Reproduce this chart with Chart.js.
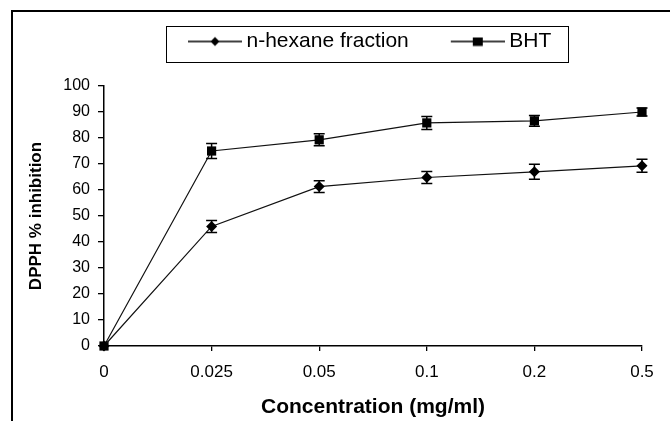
<!DOCTYPE html>
<html>
<head>
<meta charset="utf-8">
<script src="https://cdn.jsdelivr.net/npm/chart.js@4/dist/chart.umd.min.js"></script>
<style>
  html, body { margin: 0; padding: 0; background: #fff; overflow: hidden; }
  #wrap { position: relative; width: 670px; height: 421px; }
  #frame { position: absolute; left: 11px; top: 10px; width: 700px; height: 500px;
           border-left: 2px solid #000; border-top: 2px solid #000; pointer-events: none; }
  canvas { position: absolute; left: 0; top: 0; }
</style>
</head>
<body>
<div id="wrap">
  <canvas id="c" width="670" height="421"></canvas>
  <div id="frame"></div>
</div>
<script>
// ---- data ----
const categories = ['0', '0.025', '0.05', '0.1', '0.2', '0.5'];
const hexaneValues = [0, 46, 61.3, 64.8, 67, 69.3];
const hexaneErrors = [0, 2.3, 2.3, 2.3, 2.9, 2.5];
const bhtValues = [0, 75, 79.3, 85.8, 86.6, 90];
const bhtErrors = [0, 2.9, 2.3, 2.5, 2.1, 1.5];
const seriesNames = ['n-hexane fraction', 'BHT'];
const yTicks = [0, 10, 20, 30, 40, 50, 60, 70, 80, 90, 100];

const FONT = "'Liberation Sans', Arial, sans-serif";

// legend symbols: line with marker
function legendSymbol(kind) {
  const cv = document.createElement('canvas');
  cv.width = 92; cv.height = 14;
  const g = cv.getContext('2d');
  g.strokeStyle = '#000'; g.lineWidth = 1.3;
  g.beginPath(); g.moveTo(38, 7); g.lineTo(92, 7); g.stroke();
  g.fillStyle = '#000';
  if (kind === 'diamond') {
    g.beginPath(); g.moveTo(65, 2.5); g.lineTo(69.5, 7); g.lineTo(65, 11.5); g.lineTo(60.5, 7); g.closePath(); g.fill();
  } else {
    g.fillRect(60, 3, 10, 8.5);
  }
  return cv;
}
const legendIcons = [legendSymbol('diamond'), legendSymbol('square')];

const errorBarPlugin = {
  id: 'errorBars',
  afterDatasetsDraw(chart) {
    const ctx = chart.ctx;
    const yScale = chart.scales.y;
    ctx.save();
    ctx.strokeStyle = '#000';
    ctx.lineWidth = 1.5;
    chart.data.datasets.forEach((ds, di) => {
      const meta = chart.getDatasetMeta(di);
      const errs = ds.errors || [];
      meta.data.forEach((pt, i) => {
        const e = errs[i];
        if (!e) return;
        const v = ds.data[i];
        const yTop = yScale.getPixelForValue(v + e);
        const yBot = yScale.getPixelForValue(v - e);
        const x = pt.x;
        ctx.beginPath();
        ctx.moveTo(x, yTop); ctx.lineTo(x, yBot);
        ctx.moveTo(x - 5.5, yTop); ctx.lineTo(x + 5.5, yTop);
        ctx.moveTo(x - 5.5, yBot); ctx.lineTo(x + 5.5, yBot);
        ctx.stroke();
      });
    });
    ctx.restore();
  }
};

const legendPlacePlugin = {
  id: 'legendPlace',
  beforeLayout(chart) {
    const lg = chart.legend;
    if (lg && !lg._zeroPatched) {
      const origFit = lg.fit.bind(lg);
      lg.fit = function () { origFit(); this.height = 0; };
      lg._zeroPatched = true;
    }
  },
  afterLayout(chart) {
    const lg = chart.legend;
    if (!lg) return;
    lg.left = 146; lg.right = 660; lg.width = 514;
    lg.top = 21; lg.bottom = 62; lg.height = 41;
  },
  afterDraw(chart) {
    const ctx = chart.ctx;
    ctx.save();
    ctx.strokeStyle = '#000';
    ctx.lineWidth = 1;
    ctx.strokeRect(166.5, 26.5, 402, 36);
    ctx.restore();
  }
};

new Chart(document.getElementById('c'), {
  type: 'line',
  data: {
    labels: categories,
    datasets: [
      {
        label: seriesNames[0],
        data: hexaneValues,
        errors: hexaneErrors,
        borderColor: '#111',
        backgroundColor: '#000',
        borderWidth: 1.2,
        pointStyle: 'rectRot',
        pointRadius: 5.5,
        pointBorderWidth: 0,
        pointBackgroundColor: '#000',
        tension: 0,
        clip: false
      },
      {
        label: seriesNames[1],
        data: bhtValues,
        errors: bhtErrors,
        borderColor: '#111',
        backgroundColor: '#000',
        borderWidth: 1.2,
        pointStyle: 'rect',
        pointRadius: 6.5,
        pointBorderWidth: 0,
        pointBackgroundColor: '#000',
        tension: 0,
        clip: false
      }
    ]
  },
  options: {
    responsive: false,
    animation: false,
    events: [],
    layout: { padding: { top: 86, left: 0, right: 28, bottom: 0 } },
    plugins: {
      tooltip: { enabled: false },
      legend: {
        display: true,
        position: 'top',
        align: 'start',
        labels: {
          usePointStyle: true,
          pointStyleWidth: 80,
          padding: 10,
          color: '#000',
          font: { family: FONT, size: 21 },
          generateLabels(chart) {
            return chart.data.datasets.map((ds, i) => ({
              text: ds.label,
              pointStyle: legendIcons[i],
              fillStyle: '#000',
              strokeStyle: '#000',
              lineWidth: 0,
              fontColor: '#000',
              hidden: false,
              datasetIndex: i
            }));
          }
        }
      }
    },
    scales: {
      x: {
        type: 'category',
        offset: false,
        afterFit(scale) { scale.height = 75; },
        grid: { display: true, drawOnChartArea: false, drawTicks: true, tickLength: 5, color: '#000', lineWidth: 1.3 },
        border: { display: true, color: '#000', width: 1.5 },
        ticks: { color: '#000', font: { family: FONT, size: 17 }, padding: 11, maxRotation: 0, autoSkip: false },
        title: { display: true, text: 'Concentration (mg/ml)', color: '#000',
                 font: { family: FONT, size: 21, weight: 'bold' }, padding: { top: 0, bottom: 1.5 } }
      },
      y: {
        min: 0, max: 100,
        afterFit(scale) { scale.width = 104; },
        afterBuildTicks(scale) { scale.ticks = yTicks.map(v => ({ value: v })); },
        grid: { display: true, drawOnChartArea: false, drawTicks: true, tickLength: 6, color: '#000', lineWidth: 1.3 },
        border: { display: true, color: '#000', width: 1.5 },
        ticks: { color: '#000', font: { family: FONT, size: 16 }, padding: 8 },
        title: { display: true, text: 'DPPH % inhibition', color: '#000',
                 font: { family: FONT, size: 17, weight: 'bold' }, padding: { top: 26, bottom: 0 } }
      }
    }
  },
  plugins: [errorBarPlugin, legendPlacePlugin]
});
</script>
</body>
</html>
